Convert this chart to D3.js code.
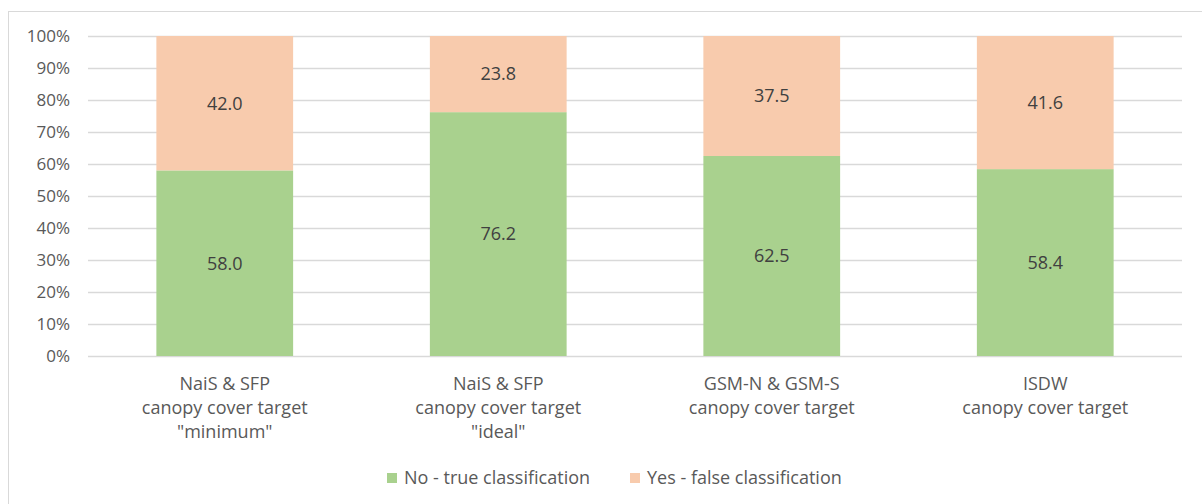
<!DOCTYPE html>
<html>
<head>
<meta charset="utf-8">
<script src="https://cdn.jsdelivr.net/npm/d3@7"></script>
<style>
  body { margin: 0; background: #fff; }
  svg { font-family: "Open Sans", Lato, sans-serif; }
</style>
</head>
<body>
<svg width="1202" height="504"></svg>
<script>
// data
var categories = [
  ['NaiS & SFP', 'canopy cover target', '"minimum"'],
  ['NaiS & SFP', 'canopy cover target', '"ideal"'],
  ['GSM-N & GSM-S', 'canopy cover target'],
  ['ISDW', 'canopy cover target']
];
var seriesNames = ['No - true classification', 'Yes - false classification'];
var noValues = [58.0, 76.2, 62.5, 58.4];
var yesValues = [42.0, 23.8, 37.5, 41.6];
var yTicks = [0, 10, 20, 30, 40, 50, 60, 70, 80, 90, 100];
var colors = ['#a9d18e', '#f8cbad'];

var svg = d3.select('svg');

// chart frame
svg.append('rect')
  .attr('x', 8.5).attr('y', 11.5)
  .attr('width', 1200).attr('height', 500)
  .attr('fill', 'none').attr('stroke', '#d9d9d9');

var plotLeft = 88, plotRight = 1182, plotTop = 36, plotBottom = 356;

var x = d3.scaleBand()
  .domain(d3.range(categories.length))
  .range([plotLeft, plotRight])
  .paddingInner(0.5)
  .paddingOuter(0.25);

var y = d3.scaleLinear().domain([0, 100]).range([plotBottom, plotTop]);

// gridlines
svg.append('g')
  .selectAll('line')
  .data(yTicks)
  .enter()
  .append('line')
  .attr('x1', plotLeft).attr('x2', plotRight)
  .attr('y1', function(d) { return Math.round(y(d)) + 0.5; })
  .attr('y2', function(d) { return Math.round(y(d)) + 0.5; })
  .attr('stroke', '#d9d9d9')
  .attr('stroke-width', 1.4);

// y tick labels
svg.append('g')
  .selectAll('text')
  .data(yTicks)
  .enter()
  .append('text')
  .attr('x', 70)
  .attr('y', function(d) { return y(d); })
  .attr('dy', '0.35em')
  .attr('text-anchor', 'end')
  .attr('font-size', 17)
  .attr('fill', '#595959')
  .text(function(d) { return d + '%'; });

// stack the two series
var rows = noValues.map(function(v, i) { return { i: i, no: v, yes: yesValues[i] }; });
var stack = d3.stack().keys(['no', 'yes'])(rows);

var layer = svg.append('g')
  .selectAll('g')
  .data(stack)
  .enter()
  .append('g')
  .attr('fill', function(d, k) { return colors[k]; });

layer.selectAll('rect')
  .data(function(d) { return d; })
  .enter()
  .append('rect')
  .attr('x', function(d) { return x(d.data.i); })
  .attr('width', x.bandwidth())
  .attr('y', function(d) { return y(d[1]); })
  .attr('height', function(d) { return y(d[0]) - y(d[1]); });

// data labels
layer.selectAll('text')
  .data(function(d) { return d; })
  .enter()
  .append('text')
  .attr('x', function(d) { return x(d.data.i) + x.bandwidth() / 2; })
  .attr('y', function(d) { return y((d[0] + d[1]) / 2); })
  .attr('dy', '0.35em')
  .attr('text-anchor', 'middle')
  .attr('font-size', 18)
  .attr('fill', '#404040')
  .text(function(d) { return (d[1] - d[0]).toFixed(1); });

// category labels
var cat = svg.append('g')
  .selectAll('text')
  .data(categories)
  .enter()
  .append('text')
  .attr('text-anchor', 'middle')
  .attr('font-size', 18)
  .attr('fill', '#595959');

cat.selectAll('tspan')
  .data(function(d, i) { return d.map(function(s) { return { s: s, i: i }; }); })
  .enter()
  .append('tspan')
  .attr('x', function(d) { return x(d.i) + x.bandwidth() / 2; })
  .attr('y', function(d, j) { return 390 + j * 24; })
  .text(function(d) { return d.s; });

// legend
var legendX = [387, 630];
var leg = svg.append('g')
  .selectAll('g')
  .data(seriesNames)
  .enter()
  .append('g')
  .attr('transform', function(d, i) { return 'translate(' + legendX[i] + ',478)'; });

leg.append('rect')
  .attr('x', 0).attr('y', -5)
  .attr('width', 10).attr('height', 10)
  .attr('fill', function(d, i) { return colors[i]; });

leg.append('text')
  .attr('x', 17)
  .attr('dy', '0.35em')
  .attr('font-size', 18)
  .attr('fill', '#595959')
  .text(function(d) { return d; });
</script>
</body>
</html>
